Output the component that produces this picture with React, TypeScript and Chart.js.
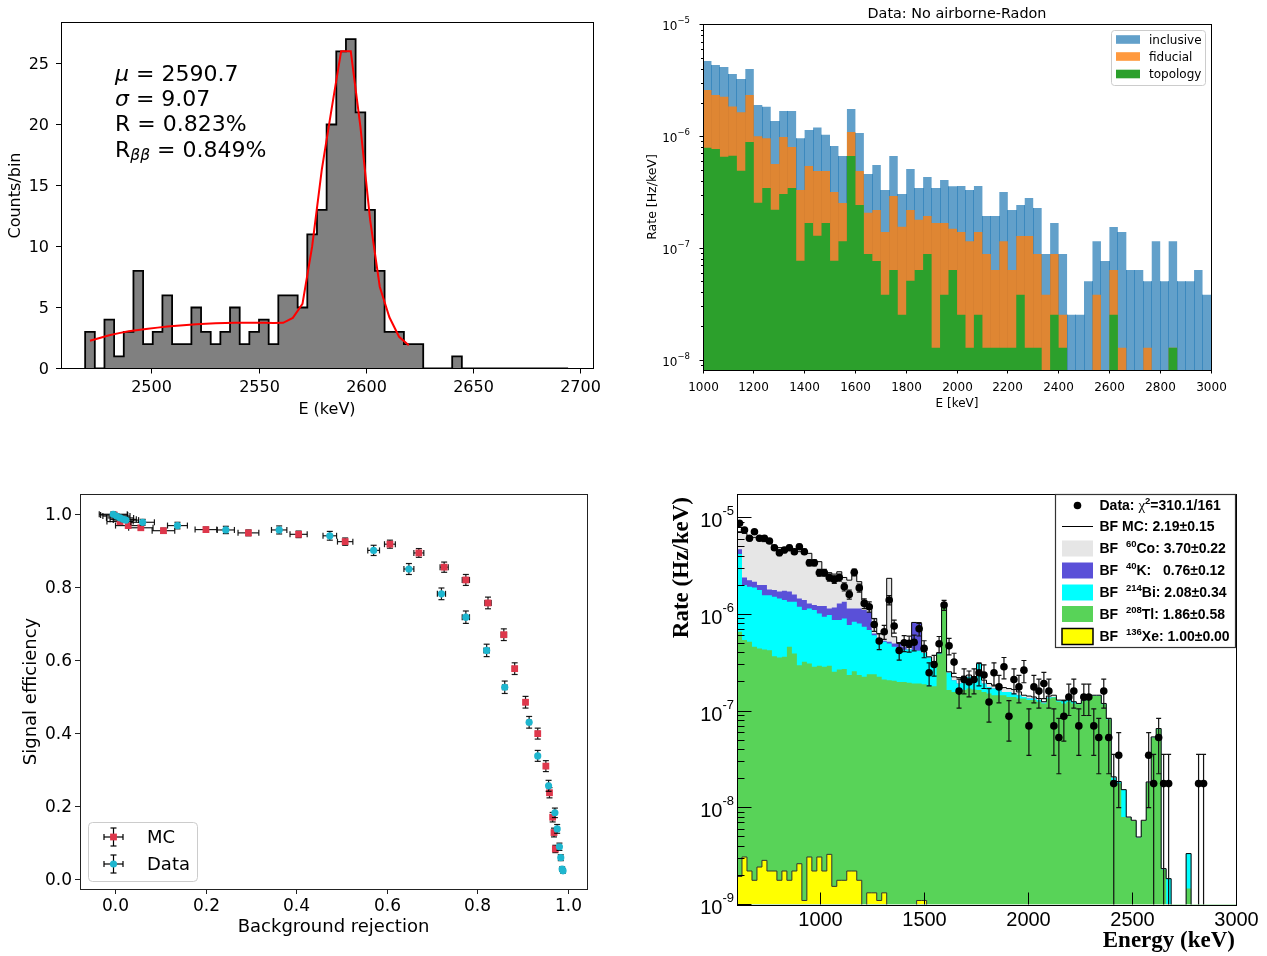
import React, { useEffect, useRef } from "react";
import { Chart, registerables } from "chart.js";

Chart.register(...registerables);

const W = 1267;
const H = 956;
const FLOOR = 1e-14;
const MPL = "'DejaVu Sans', sans-serif";
const RSANS = "'Liberation Sans', Arial, sans-serif";
const RSERIF = "'Liberation Serif', 'Times New Roman', serif";

// ================= Panel 1 : peak histogram =================
const P1_BIN_START = 2469;
const P1_BIN_WIDTH = 4.5;
const P1_COUNTS = [
  3, 0, 4, 1, 3, 8, 2, 3, 6, 2,
  2, 5, 3, 2, 3, 5, 2, 3, 4, 2,
  6, 6, 5, 11, 13, 20, 26, 27, 21, 13,
  8, 3, 3, 2, 2, 0, 0, 0, 1, 0,
  0, 0, 0, 0, 0, 0, 0, 0, 0, 0,
];
const P1_FIT = [
  2.27, 2.5, 2.72, 2.9, 3.05, 3.16, 3.26, 3.35, 3.44, 3.51,
  3.57, 3.62, 3.66, 3.7, 3.73, 3.75, 3.76, 3.76, 3.75, 3.73,
  3.74, 4.15, 5.3, 10.0, 16.3, 21.2, 26.0, 26.0, 19.8, 12.2,
  6.7, 4.2, 2.6, 1.9,
];
const P1_XTICKS = [2500, 2550, 2600, 2650, 2700];
const P1_YTICKS = [0, 5, 10, 15, 20, 25];
const P1_XMIN = 2457.75;
const P1_XMAX = 2705.6;
const P1_YMAX = 28.36;

// ================= Panel 2 : rates =================
const P2_BIN_START = 1000;
const P2_BIN_WIDTH = 2000 / 60;
const P2_INCLUSIVE = [
  4.76e-6, 4.39e-6, 4.21e-6, 3.64e-6, 3.28e-6, 4.04e-6, 1.92e-6, 1.85e-6, 1.38e-6, 1.7e-6,
  1.7e-6, 9.66e-7, 1.15e-6, 1.21e-6, 1.04e-6, 8.24e-7, 6.71e-7, 1.77e-6, 1.08e-6, 4.64e-7,
  5.57e-7, 3.33e-7, 6.71e-7, 3.07e-7, 5.13e-7, 3.47e-7, 4.36e-7, 3.47e-7, 4.09e-7, 3.59e-7,
  3.61e-7, 3.33e-7, 3.61e-7, 1.95e-7, 1.95e-7, 3.19e-7, 2.2e-7, 2.44e-7, 2.83e-7, 2.3e-7,
  8.89e-8, 1.69e-7, 8.89e-8, 2.55e-8, 2.55e-8, 5.09e-8, 1.16e-7, 7.71e-8, 1.55e-7, 1.4e-7,
  6.4e-8, 6.4e-8, 5.09e-8, 1.16e-7, 5.09e-8, 1.16e-7, 5.09e-8, 5.09e-8, 6.4e-8, 3.85e-8,
];
const P2_FIDUCIAL = [
  2.62e-6, 2.36e-6, 2.28e-6, 1.86e-6, 1.65e-6, 2.36e-6, 1.01e-6, 9.66e-7, 5.69e-7, 9.93e-7,
  8.07e-7, 3.33e-7, 5.46e-7, 4.93e-7, 4.93e-7, 3.19e-7, 2.55e-7, 1.1e-6, 4.93e-7, 2.08e-7,
  2.2e-7, 1.4e-7, 2.94e-7, 1.56e-7, 2.2e-7, 1.8e-7, 1.95e-7, 1.69e-7, 1.69e-7, 1.5e-7,
  1.4e-7, 1.16e-7, 1.4e-7, 8.89e-8, 6.4e-8, 1.16e-7, 6.4e-8, 1.29e-7, 1.29e-7, 8.89e-8,
  3.85e-8, 8.89e-8, 2.55e-8, 0, 0, 0, 3.85e-8, 0, 6.4e-8, 1.29e-8,
  0, 0, 1.29e-8, 0, 0, 1.29e-8, 0, 0, 0, 0,
];
const P2_TOPOLOGY = [
  7.96e-7, 7.76e-7, 6.62e-7, 6.76e-7, 4.96e-7, 8.95e-7, 2.56e-7, 3.47e-7, 2.22e-7, 3.07e-7,
  3.47e-7, 7.76e-8, 1.69e-7, 1.3e-7, 1.69e-7, 7.76e-8, 1.16e-7, 6.71e-7, 2.44e-7, 8.89e-8,
  7.71e-8, 3.85e-8, 6.4e-8, 2.55e-8, 5.12e-8, 6.4e-8, 8.89e-8, 1.29e-8, 3.85e-8, 6.4e-8,
  2.55e-8, 1.29e-8, 2.55e-8, 1.29e-8, 1.29e-8, 1.29e-8, 1.29e-8, 3.85e-8, 1.29e-8, 1.29e-8,
  0, 2.55e-8, 1.29e-8, 0, 0, 0, 0, 0, 2.55e-8, 0,
  0, 0, 0, 0, 0, 1.29e-8, 0, 0, 0, 0,
];
const P2_XTICKS = [1000, 1200, 1400, 1600, 1800, 2000, 2200, 2400, 2600, 2800, 3000];
const P2_YDECADES = [-8, -7, -6, -5];
const P2_LEGEND = ["inclusive", "fiducial", "topology"];

// ================= Panel 3 : efficiency vs rejection =================
const P3_MC_X = [-0.004, 0.009, 0.027, 0.055, 0.105, 0.199, 0.293, 0.404, 0.507, 0.606, 0.67, 0.726, 0.774, 0.823, 0.858, 0.882, 0.906, 0.933, 0.951, 0.959, 0.966, 0.969, 0.972];
const P3_MC_Y = [1.0, 0.982, 0.971, 0.965, 0.957, 0.96, 0.951, 0.947, 0.927, 0.92, 0.896, 0.857, 0.822, 0.759, 0.672, 0.579, 0.487, 0.401, 0.312, 0.239, 0.172, 0.13, 0.085];
const P3_MC_XERR = [0.03, 0.029, 0.028, 0.027, 0.025, 0.024, 0.023, 0.019, 0.017, 0.012, 0.011, 0.009, 0.008, 0.007, 0.006, 0.005, 0.004, 0.004, 0.003, 0.003, 0.002, 0.002, 0.002];
const P3_MC_YERR = [0.006, 0.006, 0.006, 0.006, 0.007, 0.007, 0.008, 0.009, 0.01, 0.011, 0.012, 0.014, 0.015, 0.016, 0.016, 0.016, 0.016, 0.015, 0.015, 0.014, 0.013, 0.012, 0.01];
const P3_DATA_X = [-0.006, 0.001, 0.009, 0.016, 0.022, 0.059, 0.136, 0.243, 0.361, 0.473, 0.57, 0.648, 0.72, 0.774, 0.82, 0.86, 0.914, 0.933, 0.957, 0.971, 0.976, 0.981, 0.984, 0.987, 0.989];
const P3_DATA_Y = [1.002, 0.997, 0.992, 0.988, 0.986, 0.98, 0.971, 0.959, 0.959, 0.943, 0.903, 0.852, 0.784, 0.72, 0.629, 0.528, 0.432, 0.34, 0.258, 0.184, 0.14, 0.091, 0.061, 0.03, 0.025];
const P3_DATA_XERR = [0.031, 0.03, 0.03, 0.029, 0.028, 0.026, 0.022, 0.019, 0.017, 0.015, 0.013, 0.011, 0.009, 0.008, 0.006, 0.005, 0.004, 0.003, 0.003, 0.002, 0.002, 0.002, 0.002, 0.002, 0.002];
const P3_DATA_YERR = [0.006, 0.006, 0.006, 0.006, 0.006, 0.008, 0.009, 0.01, 0.011, 0.012, 0.014, 0.015, 0.016, 0.017, 0.017, 0.017, 0.016, 0.015, 0.015, 0.013, 0.012, 0.01, 0.008, 0.006, 0.006];
const P3_TICKS = [0, 0.2, 0.4, 0.6, 0.8, 1.0];
const P3_MC_COLOR = "rgb(222,55,75)";
const P3_DATA_COLOR = "rgb(30,182,207)";

// ================= Panel 4 : background fit =================
const P4_BIN_START = 600;
const P4_BIN_WIDTH = 24;
const P4_ONE_COUNT = 1.78e-8;
// cumulative stack tops (bottom->top): Xe, +Tl, +Bi, +K, +Co (= total BF MC)
const P4_TOTAL = [
  7.16e-6, 6.89e-6, 6.47e-6, 6.27e-6, 5.97e-6, 5.65e-6, 5.43e-6, 5.1e-6, 4.9e-6, 4.71e-6,
  4.63e-6, 4.56e-6, 4.45e-6, 4.28e-6, 4.28e-6, 3.51e-6, 3.51e-6, 2.76e-6, 2.7e-6, 2.61e-6,
  2.76e-6, 2.41e-6, 2.26e-6, 2.55e-6, 2.18e-6, 1.41e-6, 1.22e-6, 9.08e-7, 6.35e-7, 6.35e-7,
  2.36e-6, 5.87e-7, 5.01e-7, 5.01e-7, 4.55e-7, 8.26e-7, 8.07e-7, 4.1e-7, 3.64e-7, 3.23e-7,
  4.0e-7, 1.2e-6, 2.55e-7, 2.26e-7, 2.22e-7, 2.3e-7, 2.36e-7, 2.26e-7, 3.1e-7, 2.09e-7,
  1.93e-7, 1.86e-7, 1.78e-7, 1.75e-7, 1.71e-7, 1.67e-7, 1.58e-7, 1.46e-7, 1.43e-7, 1.4e-7,
  1.35e-7, 1.25e-7, 1.43e-7, 1.46e-7, 1.3e-7, 1.3e-7, 1.33e-7, 1.25e-7, 1.2e-7, 1.3e-7,
  1.4e-7, 1.46e-7, 1.46e-7, 1.2e-7, 8.38e-8, 2.09e-8, 1.87e-8, 1.54e-8, 8.03e-9, 7.43e-9,
  4.99e-9, 7.43e-9, 1.85e-8, 5.41e-8, 6.6e-8, 2.35e-9, 1.85e-9, 0, 0, 0,
  3.36e-9, 0, 0, 0, 0, 0, 0, 0, 0, 0,
];
const P4_CUM_K = [
  4.71e-6, 2.41e-6, 2.26e-6, 2.18e-6, 2.01e-6, 2.01e-6, 1.81e-6, 1.79e-6, 1.72e-6, 1.76e-6,
  1.72e-6, 1.61e-6, 1.46e-6, 1.41e-6, 1.3e-6, 1.25e-6, 1.22e-6, 1.22e-6, 1.15e-6, 1.18e-6,
  1.3e-6, 1.35e-6, 1.15e-6, 1.15e-6, 1.15e-6, 1.11e-6, 1.06e-6, 6.35e-7, 5.64e-7, 5.33e-7,
  5.21e-7, 5.01e-7, 5.01e-7, 4.62e-7, 4.34e-7, 8.26e-7, 8.07e-7, 4.0e-7, 3.58e-7, 3.15e-7,
  3.94e-7, 1.18e-6, 2.49e-7, 2.09e-7, 1.93e-7, 2.18e-7, 2.26e-7, 2.22e-7, 3.1e-7, 1.93e-7,
  1.78e-7, 1.71e-7, 1.71e-7, 1.58e-7, 1.58e-7, 1.52e-7, 1.46e-7, 1.4e-7, 1.35e-7, 1.35e-7,
  1.3e-7, 1.22e-7, 1.38e-7, 1.4e-7, 1.28e-7, 1.28e-7, 1.32e-7, 1.25e-7, 1.18e-7, 1.28e-7,
  1.38e-7, 1.44e-7, 1.44e-7, 1.18e-7, 8.2e-8, 2.05e-8, 1.85e-8, 1.54e-8, 7.9e-9, 7.3e-9,
  4.9e-9, 7.3e-9, 1.82e-8, 5.3e-8, 6.5e-8, 2.3e-9, 1.85e-9, 0, 0, 0,
  3.36e-9, 0, 0, 0, 0, 0, 0, 0, 0, 0,
];
const P4_CUM_BI = [
  4.21e-6, 2.01e-6, 1.93e-6, 1.9e-6, 1.79e-6, 1.58e-6, 1.58e-6, 1.52e-6, 1.46e-6, 1.41e-6,
  1.35e-6, 1.35e-6, 1.2e-6, 1.11e-6, 1.15e-6, 1.11e-6, 1.02e-6, 9.45e-7, 9.84e-7, 8.73e-7,
  8.73e-7, 9.08e-7, 7.75e-7, 8.39e-7, 8.07e-7, 7.45e-7, 6.88e-7, 6.1e-7, 5.42e-7, 5.21e-7,
  5.01e-7, 4.62e-7, 4.27e-7, 4.3e-7, 4.34e-7, 4.27e-7, 4.2e-7, 4.0e-7, 3.58e-7, 3.15e-7,
  3.94e-7, 1.18e-6, 2.49e-7, 2.09e-7, 1.93e-7, 2.18e-7, 2.26e-7, 2.22e-7, 3.1e-7, 1.93e-7,
  1.78e-7, 1.71e-7, 1.71e-7, 1.58e-7, 1.58e-7, 1.52e-7, 1.46e-7, 1.4e-7, 1.35e-7, 1.35e-7,
  1.3e-7, 1.22e-7, 1.38e-7, 1.4e-7, 1.28e-7, 1.28e-7, 1.32e-7, 1.25e-7, 1.18e-7, 1.28e-7,
  1.38e-7, 1.44e-7, 1.44e-7, 1.18e-7, 8.2e-8, 2.05e-8, 1.85e-8, 1.54e-8, 7.9e-9, 7.3e-9,
  4.9e-9, 7.3e-9, 1.82e-8, 5.3e-8, 6.5e-8, 2.3e-9, 1.85e-9, 0, 0, 0,
  3.36e-9, 0, 0, 0, 0, 0, 0, 0, 0, 0,
];
const P4_CUM_TL = [
  6.61e-7, 5.42e-7, 5.21e-7, 4.62e-7, 4.45e-7, 4.34e-7, 4.27e-7, 3.7e-7, 3.59e-7, 3.64e-7,
  4.62e-7, 3.94e-7, 2.98e-7, 3.23e-7, 3.1e-7, 2.87e-7, 2.94e-7, 2.87e-7, 2.94e-7, 2.55e-7,
  2.69e-7, 2.72e-7, 2.36e-7, 2.59e-7, 2.36e-7, 2.26e-7, 2.41e-7, 2.41e-7, 2.26e-7, 2.12e-7,
  2.09e-7, 2.06e-7, 2.0e-7, 2.0e-7, 1.96e-7, 1.93e-7, 1.93e-7, 1.9e-7, 1.81e-7, 1.81e-7,
  3.88e-7, 1.17e-6, 1.65e-7, 1.58e-7, 1.58e-7, 1.65e-7, 1.71e-7, 1.67e-7, 1.65e-7, 1.58e-7,
  1.52e-7, 1.46e-7, 1.46e-7, 1.46e-7, 1.4e-7, 1.4e-7, 1.35e-7, 1.35e-7, 1.3e-7, 1.3e-7,
  1.25e-7, 1.2e-7, 1.35e-7, 1.38e-7, 1.25e-7, 1.2e-7, 1.25e-7, 1.2e-7, 1.18e-7, 1.27e-7,
  1.37e-7, 1.43e-7, 1.43e-7, 1.18e-7, 8.2e-8, 1.85e-8, 1.78e-8, 8.03e-9, 7.9e-9, 7.3e-9,
  4.9e-9, 7.3e-9, 1.82e-8, 5.3e-8, 6.5e-8, 2.3e-9, 0, 0, 0, 0,
  1.46e-9, 0, 0, 0, 0, 0, 0, 0, 0, 0,
];
const P4_XE = [
  1.95e-9, 3.1e-9, 2.22e-9, 1.78e-9, 2.44e-9, 2.86e-9, 2.22e-9, 2.22e-9, 1.78e-9, 2.22e-9,
  1.78e-9, 2.22e-9, 2.64e-9, 1.1e-9, 3.1e-9, 2.22e-9, 3.1e-9, 2.22e-9, 3.3e-9, 1.54e-9,
  1.78e-9, 1.78e-9, 2.22e-9, 2.22e-9, 1.78e-9, 0, 1.32e-9, 1.32e-9, 1.1e-9, 1.32e-9,
  0, 0, 0, 0, 0, 0, 1.1e-9, 1.1e-9, 0, 0,
  0, 0, 0, 0, 0, 0, 0, 0, 0, 0,
  0, 0, 0, 0, 0, 0, 0, 0, 0, 0,
  0, 0, 0, 0, 0, 0, 0, 0, 0, 0,
  0, 0, 0, 0, 0, 0, 0, 0, 0, 0,
  0, 0, 0, 0, 0, 0, 0, 0, 0, 0,
  0, 0, 0, 0, 0, 0, 0, 0, 0, 0,
];
const P4_DATA = [
  8.75e-6, 7.46e-6, 6.12e-6, 7.16e-6, 6.12e-6, 6.12e-6, 5.74e-6, 4.89e-6, 4.34e-6, 4.63e-6,
  4.89e-6, 4.45e-6, 5.01e-6, 4.45e-6, 3.42e-6, 3.42e-6, 2.7e-6, 2.7e-6, 2.41e-6, 2.3e-6,
  2.41e-6, 1.93e-6, 1.61e-6, 2.72e-6, 1.88e-6, 1.3e-6, 1.2e-6, 7.87e-7, 5.3e-7, 6.61e-7,
  1.41e-6, 7.57e-7, 4.24e-7, 5.08e-7, 5.01e-7, 5.16e-7, 7.1e-7, 4.45e-7, 2.49e-7, 3.03e-7,
  4.97e-7, 1.25e-6, 4.73e-7, 3.21e-7, 1.61e-7, 2.12e-7, 2.0e-7, 2.12e-7, 2.49e-7, 2.36e-7,
  1.24e-7, 2.49e-7, 1.78e-7, 2.87e-7, 8.85e-8, 2.12e-7, 1.78e-7, 2.65e-7, 7.03e-8, 1.78e-7,
  1.61e-7, 1.93e-7, 1.61e-7, 7.03e-8, 5.33e-8, 8.85e-8, 1.4e-7, 1.61e-7, 7.03e-8, 1.4e-7,
  1.4e-7, 7.03e-8, 5.33e-8, 1.61e-7, 5.33e-8, 1.78e-8, 3.5e-8, 0, 0, 0,
  0, 0, 3.5e-8, 1.78e-8, 5.33e-8, 1.78e-8, 1.78e-8, 0, 0, 0,
  0, 0, 1.78e-8, 1.78e-8, 0, 0, 0, 0, 0, 0,
];
const P4_XTICKS = [1000, 1500, 2000, 2500, 3000];
const P4_YDECADES = [-9, -8, -7, -6, -5];
const P4_COLORS = { co: "#e6e6e6", k: "#5a50d8", bi: "#00ffff", tl: "#58d358", xe: "#ffff00" };

// ================= layout =================
type Area = { l: number; t: number; r: number; b: number };
const AREA1: Area = { l: 61, t: 22.5, r: 593, b: 368.5 };
const AREA2: Area = { l: 703, t: 24, r: 1211, b: 370 };
const AREA3: Area = { l: 80, t: 494, r: 587, b: 889 };
const AREA4: Area = { l: 737, t: 494, r: 1236, b: 904.5 };

// ================= helpers =================
function crisp(v: number) {
  return Math.round(v - 0.5) + 0.5;
}
function seg(ctx: any, x1: number, y1: number, x2: number, y2: number) {
  ctx.beginPath();
  ctx.moveTo(x1, y1);
  ctx.lineTo(x2, y2);
  ctx.stroke();
}
type Run = { t: string; font: string; dy?: number };
function drawRuns(ctx: any, runs: Run[], x: number, y: number, align: string = "left") {
  ctx.save();
  ctx.textBaseline = "middle";
  ctx.textAlign = "left";
  let total = 0;
  const ws = runs.map((r) => {
    ctx.font = r.font;
    const w = ctx.measureText(r.t).width;
    total += w;
    return w;
  });
  let cx = align === "left" ? x : align === "right" ? x - total : x - total / 2;
  runs.forEach((r, i) => {
    ctx.font = r.font;
    ctx.fillText(r.t, cx, y + (r.dy || 0));
    cx += ws[i];
  });
  ctx.restore();
}
function rotText(ctx: any, s: string, x: number, y: number, font: string, align: string = "center") {
  ctx.save();
  ctx.translate(x, y);
  ctx.rotate(-Math.PI / 2);
  ctx.font = font;
  ctx.textAlign = align;
  ctx.textBaseline = "middle";
  ctx.fillText(s, 0, 0);
  ctx.restore();
}
function roundRect(ctx: any, x: number, y: number, w: number, h: number, r: number) {
  ctx.beginPath();
  ctx.moveTo(x + r, y);
  ctx.lineTo(x + w - r, y);
  ctx.arcTo(x + w, y, x + w, y + r, r);
  ctx.lineTo(x + w, y + h - r);
  ctx.arcTo(x + w, y + h, x + w - r, y + h, r);
  ctx.lineTo(x + r, y + h);
  ctx.arcTo(x, y + h, x, y + h - r, r);
  ctx.lineTo(x, y + r);
  ctx.arcTo(x, y, x + r, y, r);
  ctx.closePath();
}
function frame(ctx: any, a: any, color: string, lw: number) {
  ctx.strokeStyle = color;
  ctx.lineWidth = lw;
  ctx.strokeRect(crisp(a.left), crisp(a.top), Math.round(a.right - a.left), Math.round(a.bottom - a.top));
}
function stepPoints(start: number, width: number, vals: number[]) {
  const pts = vals.map((v, i) => ({ x: start + i * width, y: v > 0 ? v : FLOOR }));
  const last = vals[vals.length - 1];
  pts.push({ x: start + vals.length * width, y: last > 0 ? last : FLOOR });
  return pts;
}
function commonOptions(a: Area, xScale: any, yScale: any) {
  return {
    responsive: false,
    maintainAspectRatio: false,
    animation: false,
    devicePixelRatio: 1,
    events: [],
    layout: { padding: { left: a.l, top: a.t, right: W - a.r, bottom: H - a.b } },
    plugins: { legend: { display: false }, tooltip: { enabled: false }, title: { display: false } },
    elements: { point: { radius: 0 }, line: { tension: 0 } },
    scales: {
      x: { display: false, bounds: "data", ...xScale },
      y: { display: false, bounds: "data", ...yScale },
    },
  };
}

// error bars drawn from dataset.errors through the chart scales
const errorBarPlugin = {
  id: "errorBars",
  beforeDatasetDraw(chart: any, args: any) {
    const ds: any = chart.data.datasets[args.index];
    const errs = ds.errors;
    if (!errs) return;
    const ctx = chart.ctx;
    const xs = chart.scales.x;
    const ys = chart.scales.y;
    const a = chart.chartArea;
    ctx.save();
    ctx.beginPath();
    ctx.rect(a.left, a.top, a.right - a.left, a.bottom - a.top);
    ctx.clip();
    ctx.strokeStyle = ds.errColor || "#000";
    ctx.lineWidth = ds.errWidth || 1;
    const cap = ds.errCap || 3;
    ds.data.forEach((p: any, i: number) => {
      const e = errs[i];
      const px = xs.getPixelForValue(p.x);
      const py = ys.getPixelForValue(p.y);
      if (e.xlo !== undefined) {
        const x0 = xs.getPixelForValue(e.xlo);
        const x1 = xs.getPixelForValue(e.xhi);
        seg(ctx, x0, py, x1, py);
        seg(ctx, x0, py - cap, x0, py + cap);
        seg(ctx, x1, py - cap, x1, py + cap);
      }
      if (e.ylo !== undefined) {
        const toBottom = e.ylo <= 0;
        const y0 = toBottom ? a.bottom + 2 : ys.getPixelForValue(e.ylo);
        const y1 = ys.getPixelForValue(e.yhi);
        seg(ctx, px, y0, px, y1);
        if (!toBottom) seg(ctx, px - cap, y0, px + cap, y0);
        seg(ctx, px - cap, y1, px + cap, y1);
      }
    });
    ctx.restore();
  },
};

// ================= Panel 1 =================
const p1Deco = {
  id: "p1Deco",
  afterDraw(chart: any) {
    const ctx = chart.ctx;
    const xs = chart.scales.x;
    const ys = chart.scales.y;
    const a = chart.chartArea;
    ctx.save();
    frame(ctx, a, "#000", 1);
    ctx.fillStyle = "#000";
    ctx.font = `16px ${MPL}`;
    ctx.textAlign = "center";
    ctx.textBaseline = "middle";
    for (const v of P1_XTICKS) {
      const px = crisp(xs.getPixelForValue(v));
      seg(ctx, px, a.bottom, px, a.bottom + 5);
      ctx.fillText(String(v), px, a.bottom + 19);
    }
    ctx.textAlign = "right";
    for (const v of P1_YTICKS) {
      const py = crisp(ys.getPixelForValue(v));
      seg(ctx, a.left - 5, py, a.left, py);
      ctx.fillText(String(v), a.left - 12, py + 1.5);
    }
    ctx.textAlign = "center";
    ctx.fillText("E (keV)", (a.left + a.right) / 2, 409.5);
    rotText(ctx, "Counts/bin", 16, (a.top + a.bottom) / 2, `16px ${MPL}`);
    const f = `22px ${MPL}`;
    const fi = `italic 22px ${MPL}`;
    drawRuns(ctx, [{ t: "\u03bc", font: fi }, { t: " = 2590.7", font: f }], 115, 75);
    drawRuns(ctx, [{ t: "\u03c3", font: fi }, { t: " = 9.07", font: f }], 115, 100);
    drawRuns(ctx, [{ t: "R = 0.823%", font: f }], 115, 125);
    drawRuns(
      ctx,
      [
        { t: "R", font: f },
        { t: "\u03b2\u03b2", font: `italic 15.5px ${MPL}`, dy: 5 },
        { t: " = 0.849%", font: f },
      ],
      115,
      151
    );
    ctx.restore();
  },
};

function buildPanel1(canvas: HTMLCanvasElement) {
  const end = P1_BIN_START + P1_COUNTS.length * P1_BIN_WIDTH;
  const hist: any[] = [{ x: P1_BIN_START, y: 0 }];
  P1_COUNTS.forEach((c, i) => hist.push({ x: P1_BIN_START + i * P1_BIN_WIDTH, y: c }));
  hist.push({ x: end, y: P1_COUNTS[P1_COUNTS.length - 1] });
  hist.push({ x: end, y: 0 });
  const fit = P1_FIT.map((v, i) => ({ x: P1_BIN_START + (i + 0.5) * P1_BIN_WIDTH, y: v }));
  return new Chart(canvas, {
    type: "line",
    data: {
      datasets: [
        { data: fit, borderColor: "#ff0000", borderWidth: 2, pointRadius: 0, fill: false, order: 0 },
        {
          data: hist,
          stepped: "before",
          borderColor: "#000",
          borderWidth: 1.8,
          backgroundColor: "#808080",
          fill: "start",
          pointRadius: 0,
          order: 1,
        },
      ],
    } as any,
    options: commonOptions(
      AREA1,
      { type: "linear", min: P1_XMIN, max: P1_XMAX },
      { type: "linear", min: 0, max: P1_YMAX }
    ) as any,
    plugins: [p1Deco],
  });
}

// ================= Panel 2 =================
const P2_BLUE = "rgba(31,119,180,0.7)";
const P2_ORANGE = "rgba(255,127,14,0.8)";
const P2_GREEN = "#2ca02c";

const p2Sep = {
  id: "p2Sep",
  afterDatasetDraw(chart: any, args: any) {
    const ds: any = chart.data.datasets[args.index];
    if (!ds.separators) return;
    const ctx = chart.ctx;
    const xs = chart.scales.x;
    const ys = chart.scales.y;
    const a = chart.chartArea;
    ctx.save();
    ctx.strokeStyle = "rgba(31,119,180,0.55)";
    ctx.lineWidth = 1;
    for (let i = 1; i < P2_INCLUSIVE.length; i++) {
      const top = Math.min(P2_INCLUSIVE[i - 1], P2_INCLUSIVE[i]);
      if (!(top > 0)) continue;
      const px = crisp(xs.getPixelForValue(P2_BIN_START + i * P2_BIN_WIDTH));
      seg(ctx, px, a.bottom, px, ys.getPixelForValue(top));
    }
    ctx.restore();
  },
};

const p2Deco = {
  id: "p2Deco",
  afterDraw(chart: any) {
    const ctx = chart.ctx;
    const xs = chart.scales.x;
    const ys = chart.scales.y;
    const a = chart.chartArea;
    ctx.save();
    frame(ctx, a, "#000", 1);
    ctx.fillStyle = "#000";
    ctx.font = `12px ${MPL}`;
    ctx.textAlign = "center";
    ctx.textBaseline = "middle";
    for (const v of P2_XTICKS) {
      const px = crisp(xs.getPixelForValue(v));
      seg(ctx, px, a.bottom, px, a.bottom + 3.5);
      ctx.fillText(String(v), px, a.bottom + 17.5);
    }
    for (let e = -9; e <= -5; e++) {
      for (let m = 2; m <= 9; m++) {
        const v = m * Math.pow(10, e);
        if (v < ys.min || v > ys.max) continue;
        const py = crisp(ys.getPixelForValue(v));
        seg(ctx, a.left - 2, py, a.left, py);
      }
    }
    for (const e of P2_YDECADES) {
      const py = crisp(ys.getPixelForValue(Math.pow(10, e)));
      seg(ctx, a.left - 3.5, py, a.left, py);
      drawRuns(
        ctx,
        [
          { t: "10", font: `12px ${MPL}`, dy: 2.5 },
          { t: "\u2212" + Math.abs(e), font: `8.5px ${MPL}`, dy: -3.5 },
        ],
        a.left - 13,
        py,
        "right"
      );
    }
    ctx.font = `14.4px ${MPL}`;
    ctx.textAlign = "center";
    ctx.fillText("Data: No airborne-Radon", (a.left + a.right) / 2, 14);
    ctx.font = `12px ${MPL}`;
    ctx.fillText("E [keV]", (a.left + a.right) / 2, 404);
    rotText(ctx, "Rate [Hz/keV]", 653, (a.top + a.bottom) / 2, `12.5px ${MPL}`);
    // legend
    roundRect(ctx, 1111.5, 30.5, 94, 55, 3);
    ctx.fillStyle = "rgba(255,255,255,0.8)";
    ctx.fill();
    ctx.strokeStyle = "#cccccc";
    ctx.lineWidth = 1;
    ctx.stroke();
    const cols = [P2_BLUE, P2_ORANGE, P2_GREEN];
    const ys0 = [39.5, 56.5, 74];
    P2_LEGEND.forEach((lab, i) => {
      ctx.fillStyle = cols[i];
      ctx.fillRect(1116, ys0[i] - 4.3, 24, 8.6);
      ctx.fillStyle = "#000";
      ctx.font = `12px ${MPL}`;
      ctx.textAlign = "left";
      ctx.fillText(lab, 1149, ys0[i] + 1);
    });
    ctx.restore();
  },
};

function buildPanel2(canvas: HTMLCanvasElement) {
  const mk = (vals: number[], color: string, order: number, extra: any = {}) => ({
    data: stepPoints(P2_BIN_START, P2_BIN_WIDTH, vals),
    stepped: "before",
    borderColor: "rgba(0,0,0,0)",
    borderWidth: 0,
    backgroundColor: color,
    fill: "start",
    pointRadius: 0,
    order,
    ...extra,
  });
  return new Chart(canvas, {
    type: "line",
    data: {
      datasets: [
        mk(P2_TOPOLOGY, P2_GREEN, 0),
        mk(P2_FIDUCIAL, P2_ORANGE, 1),
        mk(P2_INCLUSIVE, P2_BLUE, 2, { separators: true }),
      ],
    } as any,
    options: commonOptions(
      AREA2,
      { type: "linear", min: 1000, max: 3000 },
      { type: "logarithmic", min: 8.15e-9, max: 1.02e-5 }
    ) as any,
    plugins: [p2Sep, p2Deco],
  });
}

// ================= Panel 3 =================
function drawMarker(ctx: any, style: string, x: number, y: number, color: string) {
  ctx.fillStyle = color;
  if (style === "rect") {
    ctx.fillRect(x - 3.4, y - 3.4, 6.8, 6.8);
  } else {
    ctx.beginPath();
    ctx.arc(x, y, 3.6, 0, Math.PI * 2);
    ctx.fill();
  }
}

const p3Deco = {
  id: "p3Deco",
  afterDraw(chart: any) {
    const ctx = chart.ctx;
    const xs = chart.scales.x;
    const ys = chart.scales.y;
    const a = chart.chartArea;
    ctx.save();
    frame(ctx, a, "#222", 1);
    ctx.fillStyle = "#000";
    ctx.font = `17px ${MPL}`;
    ctx.textAlign = "center";
    ctx.textBaseline = "middle";
    for (const v of P3_TICKS) {
      const px = crisp(xs.getPixelForValue(v));
      seg(ctx, px, a.bottom, px, a.bottom + 5);
      ctx.fillText(v.toFixed(1), px, a.bottom + 18);
    }
    ctx.textAlign = "right";
    for (const v of P3_TICKS) {
      const py = crisp(ys.getPixelForValue(v));
      seg(ctx, a.left - 5, py, a.left, py);
      ctx.fillText(v.toFixed(1), a.left - 8, py + 1.5);
    }
    ctx.textAlign = "center";
    ctx.font = `18px ${MPL}`;
    ctx.fillText("Background rejection", (a.left + a.right) / 2, 927.5);
    rotText(ctx, "Signal efficiency", 31, (a.top + a.bottom) / 2, `18px ${MPL}`);
    // legend
    roundRect(ctx, 88.5, 822.5, 109, 59, 4);
    ctx.fillStyle = "rgba(255,255,255,0.85)";
    ctx.fill();
    ctx.strokeStyle = "#cccccc";
    ctx.lineWidth = 1;
    ctx.stroke();
    const entries = [
      { lab: "MC", y: 837, style: "rect", color: P3_MC_COLOR },
      { lab: "Data", y: 864, style: "circle", color: P3_DATA_COLOR },
    ];
    for (const en of entries) {
      const cx = 113.5;
      ctx.strokeStyle = "#000";
      ctx.lineWidth = 1.2;
      seg(ctx, cx - 9.5, en.y, cx + 9.5, en.y);
      seg(ctx, cx - 9.5, en.y - 3, cx - 9.5, en.y + 3);
      seg(ctx, cx + 9.5, en.y - 3, cx + 9.5, en.y + 3);
      seg(ctx, cx, en.y - 9, cx, en.y + 9);
      seg(ctx, cx - 3, en.y - 9, cx + 3, en.y - 9);
      seg(ctx, cx - 3, en.y + 9, cx + 3, en.y + 9);
      drawMarker(ctx, en.style, cx, en.y, en.color);
      ctx.fillStyle = "#000";
      ctx.font = `18px ${MPL}`;
      ctx.textAlign = "left";
      ctx.fillText(en.lab, 147, en.y + 1.5);
    }
    ctx.restore();
  },
};

function buildPanel3(canvas: HTMLCanvasElement) {
  const mcPts = P3_MC_X.map((x, i) => ({ x, y: P3_MC_Y[i] }));
  const mcErr = P3_MC_X.map((x, i) => ({
    xlo: x - P3_MC_XERR[i],
    xhi: x + P3_MC_XERR[i],
    ylo: P3_MC_Y[i] - P3_MC_YERR[i],
    yhi: P3_MC_Y[i] + P3_MC_YERR[i],
  }));
  const dPts = P3_DATA_X.map((x, i) => ({ x, y: P3_DATA_Y[i] }));
  const dErr = P3_DATA_X.map((x, i) => ({
    xlo: x - P3_DATA_XERR[i],
    xhi: x + P3_DATA_XERR[i],
    ylo: P3_DATA_Y[i] - P3_DATA_YERR[i],
    yhi: P3_DATA_Y[i] + P3_DATA_YERR[i],
  }));
  return new Chart(canvas, {
    type: "scatter",
    data: {
      datasets: [
        {
          data: dPts,
          pointStyle: "circle",
          pointRadius: 3.6,
          pointBackgroundColor: P3_DATA_COLOR,
          pointBorderWidth: 0,
          errors: dErr,
          errCap: 3,
          errWidth: 1.2,
          errColor: "rgba(0,0,0,0.9)",
          order: 0,
        },
        {
          data: mcPts,
          pointStyle: "rect",
          pointRadius: 4.8,
          pointBackgroundColor: P3_MC_COLOR,
          pointBorderWidth: 0,
          errors: mcErr,
          errCap: 3,
          errWidth: 1.2,
          errColor: "rgba(0,0,0,0.9)",
          order: 1,
        },
      ],
    } as any,
    options: commonOptions(
      AREA3,
      { type: "linear", min: -0.0796, max: 1.042 },
      { type: "linear", min: -0.0247, max: 1.0575 }
    ) as any,
    plugins: [errorBarPlugin, p3Deco],
  });
}

// ================= Panel 4 =================
const p4Deco = {
  id: "p4Deco",
  afterDraw(chart: any) {
    const ctx = chart.ctx;
    const xs = chart.scales.x;
    const ys = chart.scales.y;
    const a = chart.chartArea;
    ctx.save();
    frame(ctx, a, "#000", 1);
    ctx.strokeStyle = "#000";
    ctx.lineWidth = 1;
    for (let e = -9; e <= -5; e++) {
      for (let m = 2; m <= 9; m++) {
        const v = m * Math.pow(10, e);
        if (v < ys.min || v > ys.max) continue;
        const py = crisp(ys.getPixelForValue(v));
        seg(ctx, a.left, py, a.left + 7.5, py);
      }
    }
    ctx.fillStyle = "#000";
    for (const e of P4_YDECADES) {
      const py = crisp(ys.getPixelForValue(Math.pow(10, e)));
      seg(ctx, a.left, py, a.left + 14.5, py);
      drawRuns(
        ctx,
        [
          { t: "10", font: `20px ${RSANS}`, dy: 3.5 },
          { t: "-" + Math.abs(e), font: `13px ${RSANS}`, dy: -6.5 },
        ],
        734,
        py,
        "right"
      );
    }
    ctx.font = `20px ${RSANS}`;
    ctx.textAlign = "center";
    ctx.textBaseline = "middle";
    for (const v of P4_XTICKS) {
      const px = crisp(xs.getPixelForValue(v));
      seg(ctx, px, a.bottom, px, a.bottom - 12);
      ctx.fillText(String(v), px, 920);
    }
    ctx.font = `bold 23px ${RSERIF}`;
    ctx.textAlign = "right";
    ctx.fillText("Energy (keV)", 1235, 941);
    rotText(ctx, "Rate (Hz/keV)", 682, 497, `bold 23px ${RSERIF}`, "right");
    // legend
    const L = { l: 1055.5, t: 494.5, r: 1235.5, b: 647.5 };
    ctx.fillStyle = "#fff";
    ctx.fillRect(L.l, L.t, L.r - L.l, L.b - L.t);
    ctx.strokeStyle = "#333";
    ctx.lineWidth = 1.2;
    ctx.strokeRect(L.l, L.t, L.r - L.l, L.b - L.t);
    const rows = [505.5, 526, 548.5, 570.5, 592.5, 614, 636.5];
    const bf = `bold 14px ${RSANS}`;
    const sup = `bold 9.5px ${RSANS}`;
    const tx = 1099.5;
    // Data
    ctx.fillStyle = "#000";
    ctx.beginPath();
    ctx.arc(1077.5, rows[0], 3.8, 0, Math.PI * 2);
    ctx.fill();
    drawRuns(
      ctx,
      [
        { t: "Data: ", font: bf, dy: 1 },
        { t: "\u03c7", font: `15px ${RSERIF}`, dy: 1 },
        { t: "2", font: sup, dy: -4 },
        { t: "=310.1/161", font: bf, dy: 1 },
      ],
      tx,
      rows[0]
    );
    ctx.strokeStyle = "#000";
    ctx.lineWidth = 1;
    seg(ctx, 1062, rows[1] + 0.5, 1093, rows[1] + 0.5);
    drawRuns(ctx, [{ t: "BF MC: 2.19\u00b10.15", font: bf, dy: 1 }], tx, rows[1]);
    const boxes = [
      { c: P4_COLORS.co, iso: "60", rest: "Co: 3.70\u00b10.22", border: false },
      { c: P4_COLORS.k, iso: "40", rest: "K:   0.76\u00b10.12", border: false },
      { c: P4_COLORS.bi, iso: "214", rest: "Bi: 2.08\u00b10.34", border: false },
      { c: P4_COLORS.tl, iso: "208", rest: "Tl: 1.86\u00b10.58", border: false },
      { c: P4_COLORS.xe, iso: "136", rest: "Xe: 1.00\u00b10.00", border: true },
    ];
    boxes.forEach((b, i) => {
      const y = rows[i + 2];
      ctx.fillStyle = b.c;
      ctx.fillRect(1062, y - 8, 31, 16);
      if (b.border) {
        ctx.strokeStyle = "#000";
        ctx.lineWidth = 1.5;
        ctx.strokeRect(1062, y - 8, 31, 16);
      }
      ctx.fillStyle = "#000";
      drawRuns(
        ctx,
        [
          { t: "BF  ", font: bf, dy: 1 },
          { t: b.iso, font: sup, dy: -4 },
          { t: b.rest, font: bf, dy: 1 },
        ],
        tx,
        y
      );
    });
    ctx.restore();
  },
};

function buildPanel4(canvas: HTMLCanvasElement) {
  const mk = (vals: number[], color: string, order: number, border = "rgba(0,0,0,0)", bw = 0) => ({
    data: stepPoints(P4_BIN_START, P4_BIN_WIDTH, vals),
    stepped: "before",
    borderColor: border,
    borderWidth: bw,
    backgroundColor: color,
    fill: "start",
    pointRadius: 0,
    order,
  });
  const pts: any[] = [];
  const errs: any[] = [];
  P4_DATA.forEach((v, i) => {
    if (!(v > 0)) return;
    const e = Math.sqrt(v * P4_ONE_COUNT);
    pts.push({ x: P4_BIN_START + (i + 0.5) * P4_BIN_WIDTH, y: v });
    errs.push({ ylo: Math.max(v - e, 0), yhi: v + e });
  });
  return new Chart(canvas, {
    type: "line",
    data: {
      datasets: [
        {
          data: pts,
          showLine: false,
          pointRadius: 3.8,
          pointBackgroundColor: "#000",
          pointBorderColor: "#000",
          pointBorderWidth: 0,
          errors: errs,
          errCap: 2.5,
          errWidth: 1.2,
          errColor: "#111",
          order: 0,
        },
        {
          data: stepPoints(P4_BIN_START, P4_BIN_WIDTH, P4_TOTAL),
          stepped: "before",
          borderColor: "#000",
          borderWidth: 1,
          fill: false,
          pointRadius: 0,
          order: 1,
        },
        mk(P4_XE, P4_COLORS.xe, 2, "#333", 1),
        mk(P4_CUM_TL, P4_COLORS.tl, 3),
        mk(P4_CUM_BI, P4_COLORS.bi, 4),
        mk(P4_CUM_K, P4_COLORS.k, 5),
        mk(P4_TOTAL, P4_COLORS.co, 6),
      ],
    } as any,
    options: commonOptions(
      AREA4,
      { type: "linear", min: 600, max: 3000 },
      { type: "logarithmic", min: 1e-9, max: 1.758e-5 }
    ) as any,
    plugins: [errorBarPlugin, p4Deco],
  });
}

// ================= React =================
function ChartCanvas({ build }: { build: (c: HTMLCanvasElement) => Chart }) {
  const ref = useRef<HTMLCanvasElement>(null);
  useEffect(() => {
    const chart = build(ref.current as HTMLCanvasElement);
    return () => chart.destroy();
  }, []);
  return (
    <canvas
      ref={ref}
      width={W}
      height={H}
      style={{ position: "absolute", left: 0, top: 0, width: W, height: H, display: "block" }}
    />
  );
}

export default function App() {
  return (
    <div
      style={{
        position: "absolute",
        left: 0,
        top: 0,
        width: W,
        height: H,
        background: "#ffffff",
        overflow: "hidden",
      }}
    >
      <ChartCanvas build={buildPanel1} />
      <ChartCanvas build={buildPanel2} />
      <ChartCanvas build={buildPanel3} />
      <ChartCanvas build={buildPanel4} />
    </div>
  );
}
